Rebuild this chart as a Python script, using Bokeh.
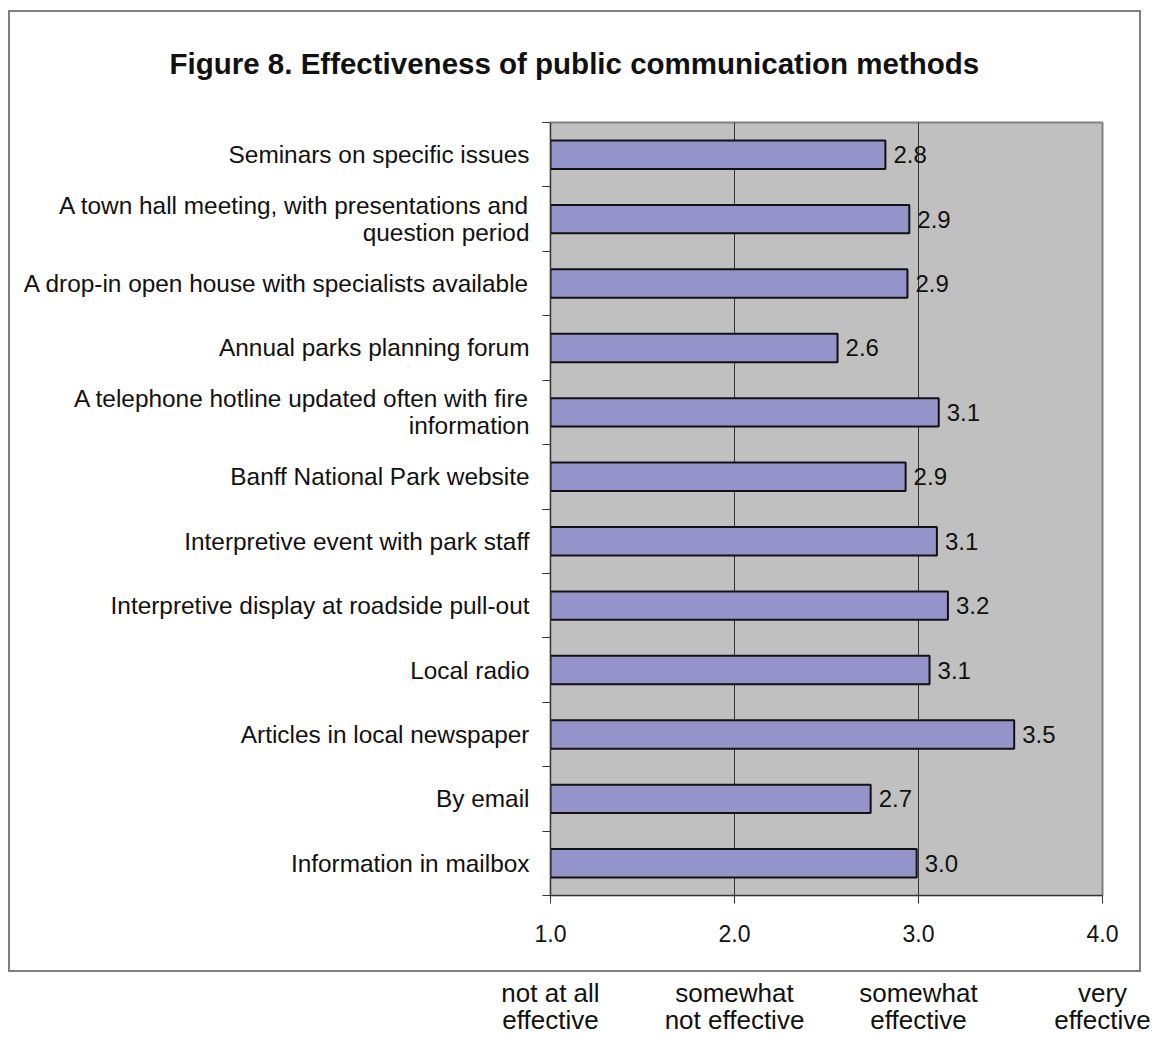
from bokeh.plotting import figure
from bokeh.models import (Range1d, FixedTicker, LinearAxis, ColumnDataSource,
                          NumeralTickFormatter)
from bokeh.core.properties import value
from bokeh.embed import file_html
from bokeh.resources import INLINE

# ---- data ----
categories = [
    "Seminars on specific issues",
    "A town hall meeting, with presentations and\nquestion period",
    "A drop-in open house with specialists available",
    "Annual parks planning forum",
    "A telephone hotline updated often with fire\ninformation",
    "Banff National Park website",
    "Interpretive event with park staff",
    "Interpretive display at roadside pull-out",
    "Local radio",
    "Articles in local newspaper",
    "By email",
    "Information in mailbox",
]
values_ = [2.82, 2.95, 2.94, 2.56, 3.11, 2.93, 3.10, 3.16, 3.06, 3.52, 2.74, 2.99]
value_labels = ["2.8", "2.9", "2.9", "2.6", "3.1", "2.9", "3.1", "3.2", "3.1", "3.5", "2.7", "3.0"]
x_ticks = [1.0, 2.0, 3.0, 4.0]
scale_labels = ["not at all\neffective", "somewhat\nnot effective",
                "somewhat\neffective", "very\neffective"]
title_text = "Figure 8. Effectiveness of public communication methods"

FONT = "Liberation Sans"
n = len(categories)
ys = [n - i - 0.5 for i in range(n)]

border_css = ("linear-gradient(#808080,#808080) 8px 10px / 1133px 2px no-repeat, "
              "linear-gradient(#808080,#808080) 8px 970px / 1133px 2px no-repeat, "
              "linear-gradient(#808080,#808080) 8px 10px / 2px 962px no-repeat, "
              "linear-gradient(#808080,#808080) 1139px 10px / 2px 962px no-repeat, "
              "#ffffff")

p = figure(width=1152, height=1038, output_backend="svg", toolbar_location=None,
           x_range=Range1d(1.0, 4.0), y_range=Range1d(0, n),
           min_border_left=550, min_border_right=50, min_border_top=122,
           min_border_bottom=143)
p.styles = {"background": border_css}
p.background_fill_color = "#C0C0C0"
p.border_fill_color = "white"
p.border_fill_alpha = 0
p.outline_line_color = "#808080"
p.outline_line_width = 2

# title
p.title.text = title_text
p.title.text_font = FONT
p.title.text_font_size = "29.5px"
p.title.text_font_style = "bold"
p.title.text_color = "#111111"
p.title.align = "left"
p.title.offset = -381
p.title.standoff = 86

src = ColumnDataSource(dict(y=ys, v=values_, lab=value_labels))
p.hbar(y="y", left=1.0, right="v", height=0.44, source=src,
       fill_color="#9494CA", line_color="#111111", line_width=2)
p.text(x="v", y="y", text="lab", source=src, x_offset=8, text_baseline="middle",
       text_align="left", text_font=value(FONT), text_font_size="24px", text_color="#111111")

# x axis
xa = p.xaxis[0]
xa.ticker = FixedTicker(ticks=x_ticks)
xa.formatter = NumeralTickFormatter(format="0.0")
xa.major_tick_out = 8
xa.major_tick_in = 0
xa.minor_tick_out = 0
xa.minor_tick_in = 0
xa.axis_line_color = "#333333"
xa.major_tick_line_color = "#333333"
xa.major_label_text_font = FONT
xa.major_label_text_font_size = "23px"
xa.major_label_text_color = "#111111"
xa.major_label_text_line_height = 1.0
xa.major_label_standoff = 21

# scale descriptions (second axis below)
xb = LinearAxis(ticker=FixedTicker(ticks=x_ticks),
                major_label_overrides={t: s for t, s in zip(x_ticks, scale_labels)})
xb.axis_line_color = None
xb.major_tick_line_color = None
xb.minor_tick_line_color = None
xb.major_label_text_font = FONT
xb.major_label_text_font_size = "26px"
xb.major_label_text_color = "#111111"
xb.major_label_text_line_height = 0.92
xb.major_label_standoff = 27
p.add_layout(xb, "below")

# y axis
ya = p.yaxis[0]
ya.ticker = FixedTicker(ticks=ys, minor_ticks=list(range(n + 1)))
ya.major_label_overrides = {y: c for y, c in zip(ys, categories)}
ya.major_tick_out = 0
ya.major_tick_in = 0
ya.minor_tick_out = 8
ya.minor_tick_in = 0
ya.minor_tick_line_color = "#333333"
ya.axis_line_color = "#333333"
ya.major_label_text_font = FONT
ya.major_label_text_font_size = "24.4px"
ya.major_label_text_color = "#111111"
ya.major_label_text_line_height = 1.0
ya.major_label_standoff = 13

p.ygrid.visible = False
p.xgrid.ticker = FixedTicker(ticks=[2.0, 3.0])
p.xgrid.grid_line_color = "#333333"
p.xgrid.grid_line_width = 1

open("out.html", "w").write(file_html(p, INLINE))
